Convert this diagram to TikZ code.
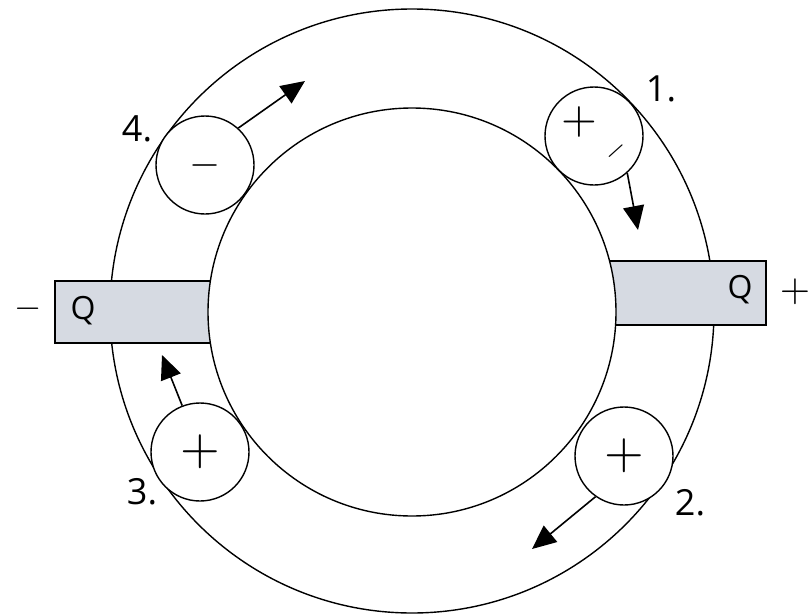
\documentclass[tikz,border=0pt]{standalone}
\usepackage{graphicx}
\usepackage{fontspec}
\setmainfont{Open Sans}
\usetikzlibrary{arrows.meta}
\definecolor{qfill}{RGB}{214,218,226}
\begin{document}
\begin{tikzpicture}[x=1pt,y=-1pt,
  ring/.style={draw,line width=1.4pt},
  charge/.style={circle,draw,fill=white,line width=1.4pt,minimum size=98pt,inner sep=0pt},
  plate/.style={draw,fill=qfill,line width=1.4pt},
  flow/.style={line width=1.6pt,-{Triangle[length=24pt,width=21pt]}},
  num/.style={font=\fontsize{36}{36}\selectfont,inner sep=0pt},
  qlab/.style={font=\fontsize{32}{32}\selectfont,inner sep=0pt},
  sign/.style={inner sep=0pt}]
\useasboundingbox (0,0) rectangle (809,616);
% outer ring
\draw[ring] (412,311) circle[radius=302pt];
% plates
\path[plate] (55,281) rectangle (232,343);
\path[plate] (590,261) rectangle (766,325);
% inner circle
\draw[ring,fill=white] (412,312) circle[radius=204pt];
% plate labels
\node[qlab] (ql) at (83,311) {Q};
\node[qlab] (qr) at (740,290) {Q};
\node[sign] (mneg) at (28,309) {\scalebox{3.5}{$-$}};
\node[sign] (mpos) at (795,292) {\scalebox{3.9}{$+$}};
% charges
\node[charge] (c1) at (594,136) {};
\node[sign] (c1p) at (579,122) {\scalebox{4.6}{$+$}};
\node[sign,rotate=42] (c1m) at (616,151) {\scalebox{3.0}{$-$}};
\node[charge] (c2) at (624,456) {\scalebox{5.1}{$+$}};
\node[charge] (c3) at (200,452) {\scalebox{5.1}{$+$}};
\node[charge] (c4) at (205,165) {\scalebox{4.0}{$-$}};
% arrow tips
\coordinate (t1) at (638,230);
\coordinate (t2) at (532,549);
\coordinate (t3) at (162,355);
\coordinate (t4) at (305,81);
\draw[flow] (c1.-48) -- (t1);
\draw[flow] (c2.-125) -- (t2);
\draw[flow] (c3.111) -- (t3);
\draw[flow] (c4.48) -- (t4);
% numbers
\node[num] (n1) at (661,89) {1.};
\node[num] (n2) at (690,503) {2.};
\node[num] (n3) at (142,492) {3.};
\node[num] (n4) at (137,129) {4.};
\end{tikzpicture}
\end{document}
